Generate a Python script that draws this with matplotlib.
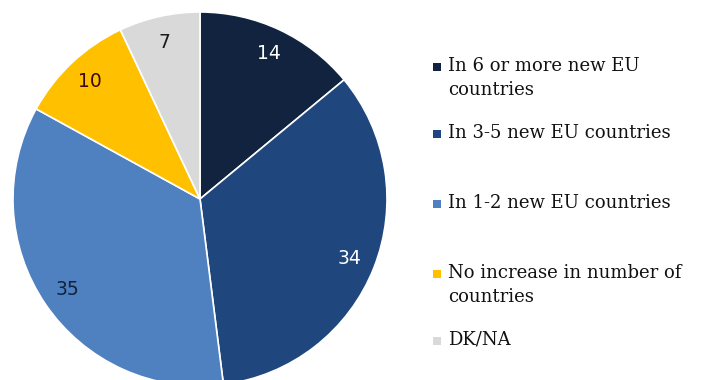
import matplotlib
matplotlib.use("Agg")
import matplotlib.pyplot as plt
from matplotlib.patches import Rectangle

# Survey shares (%), drawn clockwise from 12 o'clock
categories = ["In 6 or more new EU\ncountries", "In 3-5 new EU countries",
              "In 1-2 new EU countries", "No increase in number of\ncountries",
              "DK/NA"]
values = [14, 34, 35, 10, 7]
colors = ["#11233f", "#1f467d", "#4f80bf", "#ffc000", "#d9d9d9"]
label_colors = ["white", "white", "#11233f", "#3a0a0a", "#1a1a1a"]

W, H = 705, 380
fig = plt.figure(figsize=(W / 100, H / 100), dpi=100)

# pie axes: centre (200, 199) px, radius 187 px
cx, cy, r = 200, 199, 187
ax = fig.add_axes([(cx - r) / W, (H - cy - r) / H, 2 * r / W, 2 * r / H])
wedges, _, autotexts = ax.pie(
    values, colors=colors, startangle=90, counterclock=False,
    autopct=lambda p: f"{p:.0f}", pctdistance=0.86,
    wedgeprops=dict(edgecolor="white", linewidth=1.2),
    textprops=dict(fontsize=13.5, family="DejaVu Sans"))
for t, c in zip(autotexts, label_colors):
    t.set_color(c)
ax.set_xlim(-1, 1)
ax.set_ylim(-1, 1)
ax.set_aspect("equal")

# legend entries, placed by hand
legend_y = [67, 134, 204, 274, 341]
for lab, col, y in zip(categories, colors, legend_y):
    fig.add_artist(Rectangle(((437 - 4) / W, (H - y - 4) / H), 8 / W, 8 / H,
                             facecolor=col, edgecolor="none",
                             transform=fig.transFigure))
    fig.text(448 / W, (H - y + 10) / H, lab, fontsize=13,
             family="DejaVu Serif", color="#111111", va="top", ha="left",
             linespacing=1.4)

fig.savefig("out.png", dpi=100)
